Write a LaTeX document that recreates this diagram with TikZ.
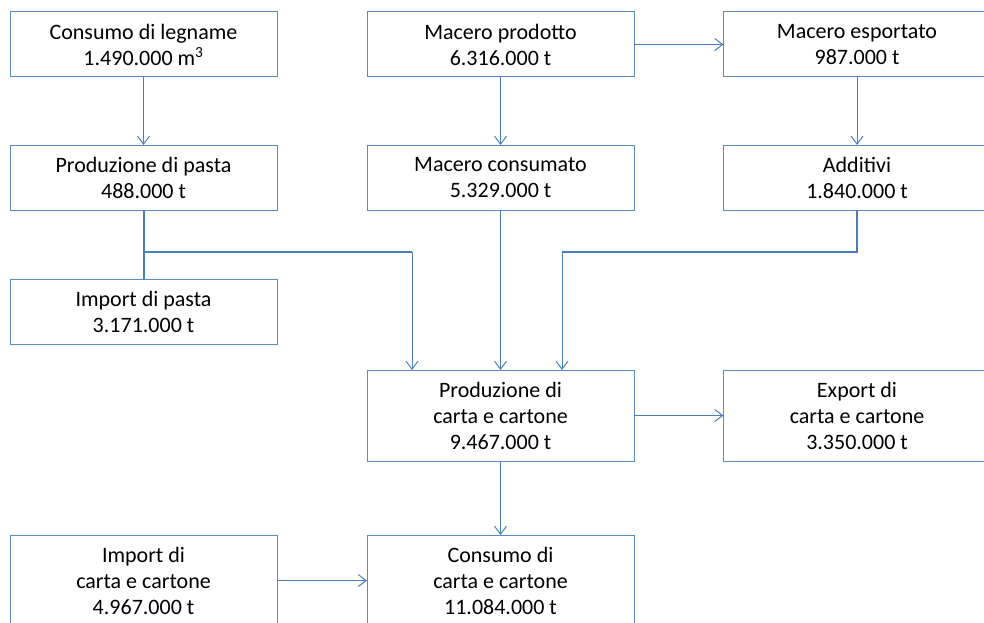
\documentclass[tikz,border=0pt]{standalone}
\usepackage{fontspec}
\setmainfont{Carlito}
\usetikzlibrary{arrows.meta}
\definecolor{boxblue}{HTML}{5B8AC8}
\definecolor{linkblue}{HTML}{4A7EBB}
\tikzset{
  box/.style={draw=boxblue, line width=1pt, rectangle, minimum width=267pt, inner sep=0pt, outer sep=0pt,
    align=center, font=\fontsize{22pt}{26pt}\selectfont},
  twoline/.style={box, minimum height=65pt},
  threeline/.style={box, minimum height=91pt},
  link/.style={draw=linkblue, line width=1pt, -{Straight Barb[length=8pt,width=12pt]}},
  bus/.style={draw=linkblue, line width=2pt},
}
\begin{document}
\begin{tikzpicture}[x=1pt,y=-1pt]
\useasboundingbox (0,0) rectangle (984,623);
\clip (0,0) rectangle (984,623);
\node[twoline] (leg) at (143.5,44.5) {Consumo di legname\\1.490.000 m\textsuperscript{3}};
\node[twoline] (mpr) at (500.5,44.5) {Macero prodotto\\6.316.000 t};
\node[twoline] (mes) at (857,44.5) {Macero esportato\\987.000 t};
\node[twoline] (pas) at (143.5,177.5) {Produzione di pasta\\488.000 t};
\node[twoline] (mco) at (500.5,177.5) {Macero consumato\\5.329.000 t};
\node[twoline] (add) at (857,177.5) {Additivi\\1.840.000 t};
\node[twoline] (imp) at (143.5,311.5) {Import di pasta\\3.171.000 t};
\node[threeline] (pcc) at (500.5,415.5) {Produzione di\\carta e cartone\\9.467.000 t};
\node[threeline] (exp) at (857,415.5) {Export di\\carta e cartone\\3.350.000 t};
\node[threeline] (icc) at (143.5,580.5) {Import di\\carta e cartone\\4.967.000 t};
\node[threeline] (ccc) at (500.5,580.5) {Consumo di\\carta e cartone\\11.084.000 t};

\coordinate (pj) at (143.5,252);
\coordinate (pk) at (412,252);
\coordinate (aj) at (857,252);
\coordinate (ak) at (562,252);

\draw[link] (leg) -- (pas);
\draw[link] (mpr) -- (mco);
\draw[link] (mpr) -- (mes);
\draw[link] (mes) -- (add);
\draw[bus] (pas.south) -- (imp.north);
\draw[bus] (pj) -- (pk);
\draw[link] (pk) -- (pk |- pcc.north);
\draw[link] (mco) -- (pcc);
\draw[bus] (add.south) -- (aj) -- (ak);
\draw[link] (ak) -- (ak |- pcc.north);
\draw[link] (pcc) -- (exp);
\draw[link] (pcc) -- (ccc);
\draw[link] (icc) -- (ccc);
\end{tikzpicture}
\end{document}
